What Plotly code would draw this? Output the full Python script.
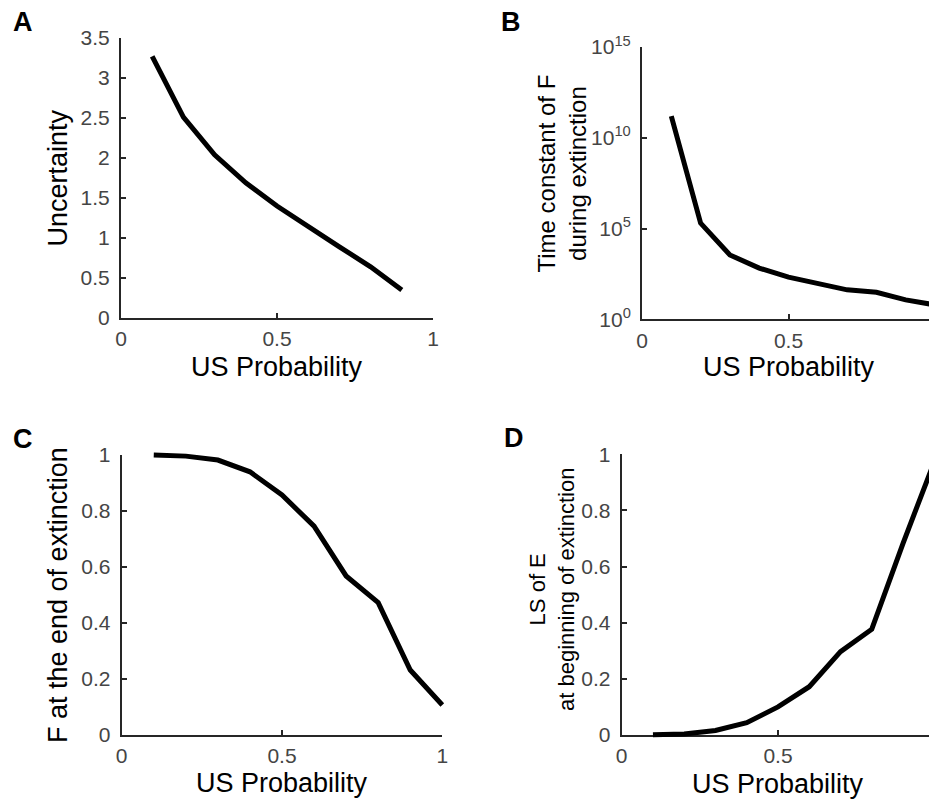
import plotly.graph_objects as go

PAGE_W, PAGE_H = 937, 803
BODY_MARGIN = 8           # default page margin in front of the figure
W, H = PAGE_W - BODY_MARGIN, PAGE_H - BODY_MARGIN

# ---------------- data ----------------
us_prob_a = [0.1, 0.2, 0.3, 0.4, 0.5, 0.6, 0.7, 0.8, 0.9]
uncertainty = [3.27, 2.51, 2.04, 1.69, 1.40, 1.14, 0.89, 0.64, 0.35]

us_prob = [0.1, 0.2, 0.3, 0.4, 0.5, 0.6, 0.7, 0.8, 0.9, 1.0]
time_constant_f = [1.55e11, 2.0e5, 3.5e3, 6.6e2, 2.1e2, 98, 42, 31, 11.7, 6.2]
f_end_extinction = [1.0, 0.996, 0.982, 0.94, 0.857, 0.746, 0.568, 0.473, 0.232, 0.107]
ls_e_begin = [0.001, 0.004, 0.016, 0.044, 0.10, 0.172, 0.297, 0.377, 0.683, 0.974]

x_ticks = [0, 0.5, 1]
x_ticktext = ["0", "0.5", "1"]
a_yticks = [0, 0.5, 1, 1.5, 2, 2.5, 3, 3.5]
a_yticktext = ["0", "0.5", "1", "1.5", "2", "2.5", "3", "3.5"]
b_yticks = [1, 1e5, 1e10, 1e15]
b_yticktext = ["10<sup>0</sup>", "10<sup>5</sup>", "10<sup>10</sup>", "10<sup>15</sup>"]
cd_yticks = [0, 0.2, 0.4, 0.6, 0.8, 1]
cd_yticktext = ["0", "0.2", "0.4", "0.6", "0.8", "1"]

panel_letters = ["A", "B", "C", "D"]
x_title = "US Probability"
y_titles = ["Uncertainty",
            "Time constant of F<br>during extinction",
            "F at the end of extinction",
            "LS of E<br>at beginning of extinction"]

# ---------------- layout geometry (page pixels) ----------------
# x0, x1, ytop, ybottom of each plot area
boxes = [(121, 433, 38, 318),
         (642, 935, 47, 319.3),
         (121.7, 442.3, 455, 735),
         (621.7, 934.3, 454.3, 735)]
x_ranges = [[0, 1]] * 4
y_ranges = [[0, 3.5], [0, 15], [0, 1], [0, 1]]   # panel B in log10 units
y_types = ["linear", "log", "linear", "linear"]
yticks = [(a_yticks, a_yticktext), (b_yticks, b_yticktext),
          (cd_yticks, cd_yticktext), (cd_yticks, cd_yticktext)]
series = [(us_prob_a, uncertainty), (us_prob, time_constant_f),
          (us_prob, f_end_extinction), (us_prob, ls_e_begin)]

letter_pos = [(23, 22), (511, 22), (23, 439), (514, 438)]
ytitle_pos = [(57.5, 178), (561.5, 174), (58, 595), (552, 590)]
ytitle_size = [27, 24, 27, 22]
xtitle_y = [366.5, 367, 783, 784]

FONT = "Liberation Sans, Arial, Helvetica, sans-serif"
AXIS_COLOR = "#262626"
TICK_COLOR = "#454545"
TICK_SIZE = 21
PAD = 8  # px padding for the (invisible) data axes so thick lines are not clipped


def px_x(p):
    return (p - BODY_MARGIN) / W


def px_y(p):
    return 1 - (p - BODY_MARGIN) / H


fig = go.Figure()
layout = dict(
    template="none",
    width=W, height=H, autosize=False,
    margin=dict(l=0, r=0, t=0, b=0, pad=0),
    paper_bgcolor="white", plot_bgcolor="rgba(0,0,0,0)",
    showlegend=False,
    font=dict(family=FONT, color=TICK_COLOR),
)
annotations = []

for i in range(4):
    x0, x1, yt, yb = boxes[i]
    xd = [px_x(x0), min(1, px_x(x1))]
    yd = [px_y(yb), px_y(yt)]
    n_vis = i + 1
    n_dat = i + 5
    # visible axes
    layout[f"xaxis{n_vis}"] = dict(
        domain=xd, range=x_ranges[i], anchor=f"y{n_vis}", automargin=False,
        showline=True, linecolor=AXIS_COLOR, linewidth=2,
        ticks="inside", ticklen=5, tickwidth=2, tickcolor=AXIS_COLOR,
        tickvals=x_ticks, ticktext=x_ticktext,
        tickfont=dict(size=TICK_SIZE, color=TICK_COLOR, family=FONT),
        ticklabelstandoff=1, ticklabeloverflow="allow",
        showgrid=False, zeroline=False, fixedrange=True,
    )
    yv, yt_text = yticks[i]
    layout[f"yaxis{n_vis}"] = dict(
        domain=yd, range=y_ranges[i], type=y_types[i], anchor=f"x{n_vis}",
        automargin=False,
        showline=True, linecolor=AXIS_COLOR, linewidth=2,
        ticks="inside", ticklen=5, tickwidth=2, tickcolor=AXIS_COLOR,
        tickvals=yv, ticktext=yt_text,
        tickfont=dict(size=TICK_SIZE, color=TICK_COLOR, family=FONT),
        ticklabelstandoff=5, ticklabeloverflow="allow",
        showgrid=False, zeroline=False, fixedrange=True,
    )
    fig.add_trace(go.Scatter(x=[], y=[], xaxis=f"x{n_vis}", yaxis=f"y{n_vis}",
                             hoverinfo="skip"))
    # data axes: same scale, extended by PAD px on every side
    xr = x_ranges[i]
    sx = (xr[1] - xr[0]) / (x1 - x0)
    yr = y_ranges[i]
    sy = (yr[1] - yr[0]) / (yb - yt)
    x_end = min(PAGE_W, x1 + PAD)
    layout[f"xaxis{n_dat}"] = dict(
        domain=[px_x(x0 - PAD), px_x(x_end)],
        range=[xr[0] - PAD * sx, xr[0] + (x_end - x0) * sx],
        anchor=f"y{n_dat}", visible=False, fixedrange=True, automargin=False,
    )
    layout[f"yaxis{n_dat}"] = dict(
        domain=[px_y(yb + PAD), px_y(yt - PAD)],
        range=[yr[0] - PAD * sy, yr[1] + PAD * sy], type=y_types[i],
        anchor=f"x{n_dat}", visible=False, fixedrange=True, automargin=False,
    )
    xs, ys = series[i]
    fig.add_trace(go.Scatter(x=xs, y=ys, mode="lines",
                             line=dict(color="black", width=5),
                             xaxis=f"x{n_dat}", yaxis=f"y{n_dat}",
                             hoverinfo="skip"))

    # panel letter
    lx, ly = letter_pos[i]
    annotations.append(dict(text=f"<b>{panel_letters[i]}</b>", x=px_x(lx), y=px_y(ly),
                            xref="paper", yref="paper", xanchor="center", yanchor="middle",
                            showarrow=False, font=dict(size=27, color="black", family=FONT)))
    # x title
    annotations.append(dict(text=x_title, x=px_x((x0 + x1) / 2), y=px_y(xtitle_y[i]),
                            xref="paper", yref="paper", xanchor="center", yanchor="middle",
                            showarrow=False, font=dict(size=27, color="black", family=FONT)))
    # y title
    tx, ty = ytitle_pos[i]
    annotations.append(dict(text=y_titles[i], x=px_x(tx), y=px_y(ty), textangle=-90,
                            xref="paper", yref="paper", xanchor="center", yanchor="middle",
                            showarrow=False,
                            font=dict(size=ytitle_size[i], color="black", family=FONT)))

layout["annotations"] = annotations
fig.update_layout(**layout)
fig.write_html("out.html")
